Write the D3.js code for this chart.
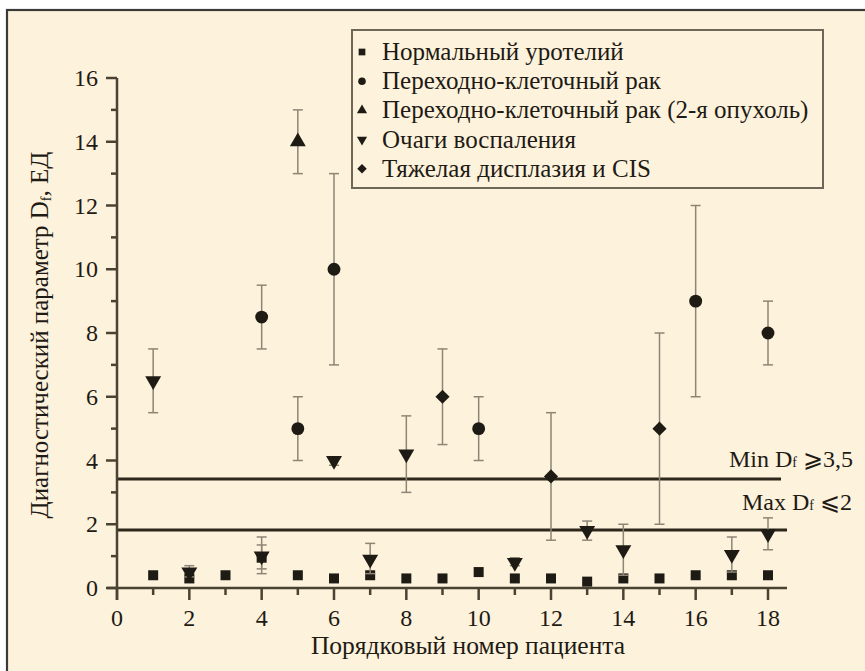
<!DOCTYPE html>
<html><head><meta charset="utf-8">
<script src="https://cdn.jsdelivr.net/npm/d3@7"></script>
<style>
html,body{margin:0;padding:0;background:#fff;}
svg{display:block;}
</style></head>
<body>
<svg id="chart" width="865" height="671"></svg>
<script>
// ---- data ----
const patients = d3.range(1, 19);
const normalValues = [0.4,0.3,0.4,0.95,0.4,0.3,0.4,0.3,0.3,0.5,0.3,0.3,0.2,0.3,0.3,0.4,0.4,0.4];
const normalErrLow  = [null,null,null,0.45,null,null,null,null,null,null,null,null,null,null,null,null,null,null];
const normalErrHigh = [null,null,null,1.35,null,null,null,null,null,null,null,null,null,null,null,null,null,null];

const cancerPatients = [4,5,6,10,16,18];
const cancerValues   = [8.5,5,10,5,9,8];
const cancerLow      = [7.5,4,7,4,6,7];
const cancerHigh     = [9.5,6,13,6,12,9];

const tumor2Patients = [5];
const tumor2Values   = [14];
const tumor2Low      = [13];
const tumor2High     = [15];

const inflPatients = [1,2,4,6,7,8,11,13,14,17,18];
const inflValues   = [6.5,0.5,1.0,4.0,0.9,4.2,0.8,1.8,1.2,1.05,1.7];
const inflLow      = [5.5,0.35,0.6,3.85,0.45,3.0,0.7,1.5,0.4,0.5,1.2];
const inflHigh     = [7.5,0.7,1.6,4.1,1.4,5.4,0.95,2.1,2.0,1.6,2.2];

const cisPatients = [9,12,15];
const cisValues   = [6,3.5,5];
const cisLow      = [4.5,1.5,2];
const cisHigh     = [7.5,5.5,8];

const minThreshold = 3.42;
const maxThreshold = 1.82;

const xTicks = [0,2,4,6,8,10,12,14,16,18];
const yTicks = [0,2,4,6,8,10,12,14,16];

const legendLabels = [
  "Нормальный уротелий",
  "Переходно-клеточный рак",
  "Переходно-клеточный рак (2-я опухоль)",
  "Очаги воспаления",
  "Тяжелая дисплазия и CIS"
];
const legendSymbols = ["square","circle","up","down","diamond"];

// ---- drawing ----
const svg = d3.select("#chart");
const bg = "#fdf2dc";
const ink = "#1e1a14";
const axisCol = "#4a4232";
const errCol = "#8d8676";
const txtCol = "#1e1a14";
const FONT = '"Liberation Serif","Tinos",serif';

svg.append("rect").attr("x",7).attr("y",10).attr("width",900).attr("height",700)
  .attr("fill",bg).attr("stroke","#3a3a3a").attr("stroke-width",2.2);

const x = d3.scaleLinear().domain([0,18]).range([117,768]);
const y = d3.scaleLinear().domain([0,16]).range([588,78]);

function sym(type, size){
  if(type==="square") return d3.symbol(d3.symbolSquare, size)();
  if(type==="circle") return d3.symbol(d3.symbolCircle, size)();
  if(type==="diamond") return d3.symbol(d3.symbolSquare, size)();
  return d3.symbol(d3.symbolTriangle, size)();
}
function transformFor(type, px, py){
  if(type==="diamond") return `translate(${px},${py}) rotate(45)`;
  if(type==="down") return `translate(${px},${py}) rotate(180)`;
  return `translate(${px},${py})`;
}
function label(parent, attrs, parts){
  const t = parent.append("text").attr("fill",txtCol);
  Object.entries(attrs).forEach(([k,v])=>t.attr(k,v));
  parts.forEach(p=>{
    const s = t.append("tspan").text(p.t);
    if(p.size) s.attr("font-size",p.size);
    if(p.dy!=null) s.attr("dy",p.dy);
  });
  return t;
}

// threshold lines
svg.append("line").attr("x1",x(0)).attr("x2",781).attr("y1",y(minThreshold)).attr("y2",y(minThreshold))
  .attr("stroke","#2e271c").attr("stroke-width",3);
svg.append("line").attr("x1",x(0)).attr("x2",787).attr("y1",y(maxThreshold)).attr("y2",y(maxThreshold))
  .attr("stroke","#2e271c").attr("stroke-width",3);

// x axis
const gx = svg.append("g");
gx.append("line").attr("x1",107).attr("x2",787).attr("y1",y(0)).attr("y2",y(0)).attr("stroke",axisCol).attr("stroke-width",2.5);
d3.range(0,19).forEach(v=>{
  gx.append("line").attr("x1",x(v)).attr("x2",x(v)).attr("y1",y(0)).attr("y2",y(0)+(v%2===0?12:7))
    .attr("stroke",axisCol).attr("stroke-width",2.5);
});
xTicks.forEach(d=>label(gx,{x:x(d),y:626,"text-anchor":"middle","font-size":24},[{t:String(d)}]));

// y axis
const gy = svg.append("g");
gy.append("line").attr("x1",x(0)).attr("x2",x(0)).attr("y1",y(16)).attr("y2",600).attr("stroke",axisCol).attr("stroke-width",2.5);
d3.range(0,17).forEach(v=>{
  gy.append("line").attr("x1",x(0)-(v%2===0?11:6)).attr("x2",x(0)).attr("y1",y(v)).attr("y2",y(v))
    .attr("stroke",axisCol).attr("stroke-width",2.5);
});
yTicks.forEach(d=>label(gy,{x:98,y:y(d)+8,"text-anchor":"end","font-size":24},[{t:String(d)}]));

// axis titles
label(svg,{x:468,y:654,"text-anchor":"middle","font-size":25.5},[{t:"Порядковый номер пациента"}]);
label(svg,{transform:"translate(48,335) rotate(-90)","text-anchor":"middle","font-size":25},
  [{t:"Диагностический параметр D"},{t:"f",size:14,dy:3},{t:", ЕД",dy:-3}]);

// threshold labels
label(svg,{x:853,y:467,"text-anchor":"end","font-size":24},[{t:"Min D"},{t:"f",size:14},{t:" ⩾3,5"}]);
label(svg,{x:852,y:510,"text-anchor":"end","font-size":24},[{t:"Max D"},{t:"f",size:14},{t:" ⩽2"}]);

// error bars + markers
function series(ps, vals, lows, highs, type, size){
  const g = svg.append("g");
  ps.forEach((p,i)=>{
    const lo = lows[i], hi = highs[i];
    if(lo!=null && hi!=null){
      g.append("line").attr("x1",x(p)).attr("x2",x(p)).attr("y1",y(lo)).attr("y2",y(hi)).attr("stroke",errCol).attr("stroke-width",1.5);
      [lo,hi].forEach(v=>g.append("line").attr("x1",x(p)-5).attr("x2",x(p)+5).attr("y1",y(v)).attr("y2",y(v)).attr("stroke",errCol).attr("stroke-width",1.5));
    }
  });
  ps.forEach((p,i)=>{
    g.append("path").attr("d",sym(type,size)).attr("transform",transformFor(type,x(p),y(vals[i]))).attr("fill",ink);
  });
}
series(patients, normalValues, normalErrLow, normalErrHigh, "square", 100);
series(cancerPatients, cancerValues, cancerLow, cancerHigh, "circle", 130);
series(tumor2Patients, tumor2Values, tumor2Low, tumor2High, "up", 110);
series(inflPatients, inflValues, inflLow, inflHigh, "down", 110);
series(cisPatients, cisValues, cisLow, cisHigh, "diamond", 100);

// legend
const lg = svg.append("g");
lg.append("rect").attr("x",352).attr("y",30).attr("width",471).attr("height",158)
  .attr("fill",bg).attr("stroke","#6e6656").attr("stroke-width",2);
legendLabels.forEach((lab,i)=>{
  const cy = 52 + i*29.2;
  lg.append("path").attr("d",sym(legendSymbols[i],45)).attr("transform",transformFor(legendSymbols[i],362,cy)).attr("fill",ink);
  label(lg,{x:382,y:cy+8,"font-size":25},[{t:lab}]);
});

svg.selectAll("text, tspan").style("font-family", FONT);
</script>
</body></html>
